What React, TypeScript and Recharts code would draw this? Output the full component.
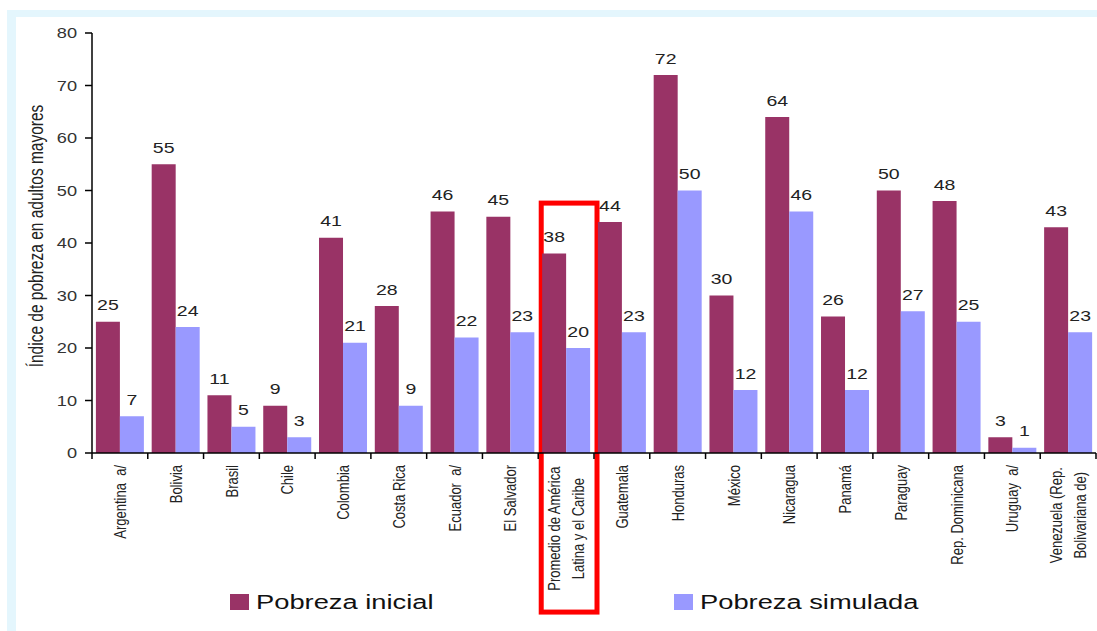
import React from 'react';
import { BarChart, Bar, XAxis, YAxis, LabelList, ReferenceArea } from 'recharts';

const categories = [
  'Argentina  a/',
  'Bolivia',
  'Brasil',
  'Chile',
  'Colombia',
  'Costa Rica',
  'Ecuador  a/',
  'El Salvador',
  'Promedio de América\nLatina y el Caribe',
  'Guatemala',
  'Honduras',
  'México',
  'Nicaragua',
  'Panamá',
  'Paraguay',
  'Rep. Dominicana',
  'Uruguay  a/',
  'Venezuela (Rep.\nBolivariana de)',
];
const pobrezaInicial = [25, 55, 11, 9, 41, 28, 46, 45, 38, 44, 72, 30, 64, 26, 50, 48, 3, 43];
const pobrezaSimulada = [7, 24, 5, 3, 21, 9, 22, 23, 20, 23, 50, 12, 46, 12, 27, 25, 1, 23];
const yTicks = [0, 10, 20, 30, 40, 50, 60, 70, 80];
const highlightedCategory = categories[8];
const yTitle = 'Índice de pobreza en adultos mayores';
const seriesNames = ['Pobreza inicial', 'Pobreza simulada'];

const COLORS = ['#993366', '#9999FF'];
const FONT = '"Liberation Sans", Arial, sans-serif';
const STRETCH = 1.3;
const W = 1097;
const H = 631;

const data = categories.map((c, i) => ({
  name: c,
  inicial: pobrezaInicial[i],
  simulada: pobrezaSimulada[i],
}));

const XTick = (props: any) => {
  const { x, y, payload, index } = props;
  const half = payload && payload.offset ? payload.offset : 27.9;
  const lines = String(payload.value).split('\n');
  const top = y + 12;
  const maxLen = Math.max(...lines.map((l) => l.length));
  const centerOff = (maxLen * 6.7) / 2;
  return (
    <g>
      <line x1={x - half} y1={y} x2={x - half} y2={y + 6} stroke="#000" strokeWidth={1.5} />
      {index === categories.length - 1 && (
        <line x1={x + half} y1={y} x2={x + half} y2={y + 6} stroke="#000" strokeWidth={1.5} />
      )}
      {lines.map((l, i) => {
        const cx = x + (i - (lines.length - 1) / 2) * 24;
        const multi = lines.length > 1;
        return (
          <text
            key={i}
            transform={`translate(${cx},${top}) scale(${STRETCH},1) rotate(-90)`}
            x={multi ? -centerOff : 0}
            y={0}
            textAnchor={multi ? 'middle' : 'end'}
            dominantBaseline="central"
            fontSize={13}
            fontFamily={FONT}
            fill="#222"
            style={{ whiteSpace: 'pre' }}
          >
            {l}
          </text>
        );
      })}
    </g>
  );
};

const YTick = (props: any) => {
  const { x, y, payload } = props;
  return (
    <text
      transform={`translate(${x},${y}) scale(${STRETCH},1)`}
      textAnchor="end"
      dominantBaseline="central"
      fontSize={14}
      fontFamily={FONT}
      fill="#333"
    >
      {payload.value}
    </text>
  );
};

const BarLabel = (props: any) => {
  const { x, y, width, value } = props;
  return (
    <text
      transform={`translate(${x + width / 2},${y - 11.5}) scale(${STRETCH},1)`}
      textAnchor="middle"
      fontSize={15}
      fontFamily={FONT}
      fill="#222"
    >
      {value}
    </text>
  );
};

const BoxShape = (p: any) => (
  <rect x={p.x + 3} y={p.y} width={p.width} height={p.height} fill="none" stroke="#FF0000" strokeWidth={5} />
);

export default function App() {
  const legendX = [230, 674];
  return (
    <div style={{ position: 'absolute', left: 0, top: 0, width: W, height: H, background: '#fff' }}>
      <BarChart
        width={W}
        height={H}
        data={data}
        margin={{ top: 33, right: 1, bottom: 28, left: 0 }}
        barCategoryGap="7%"
        barGap={0}
      >
        <XAxis
          dataKey="name"
          interval={0}
          height={150}
          tickSize={0}
          tickMargin={0}
          tickLine={false}
          axisLine={{ stroke: '#000', strokeWidth: 1.5 }}
          tick={<XTick />}
        />
        <YAxis
          domain={[0, 80]}
          ticks={yTicks}
          width={92}
          tickSize={7}
          tickMargin={8}
          axisLine={{ stroke: '#000', strokeWidth: 1.5 }}
          tickLine={{ stroke: '#000', strokeWidth: 1.5 }}
          tick={<YTick />}
          interval={0}
        />
        <Bar dataKey="inicial" name={seriesNames[0]} fill={COLORS[0]} isAnimationActive={false}>
          <LabelList dataKey="inicial" content={<BarLabel />} />
        </Bar>
        <Bar dataKey="simulada" name={seriesNames[1]} fill={COLORS[1]} isAnimationActive={false}>
          <LabelList dataKey="simulada" content={<BarLabel />} />
        </Bar>
        <ReferenceArea
          x1={highlightedCategory}
          x2={highlightedCategory}
          y1={-30.3}
          y2={47.6}
          ifOverflow="visible"
          shape={<BoxShape />}
        />
      </BarChart>
      <svg
        width={W}
        height={H}
        style={{ position: 'absolute', left: 0, top: 0, pointerEvents: 'none' }}
      >
        <rect x={7} y={10} width={W - 7} height={7} fill="#E4F6FD" />
        <rect x={7} y={10} width={9} height={H - 10} fill="#E4F6FD" />
        <text
          transform={`translate(36,236) scale(${STRETCH},1) rotate(-90)`}
          textAnchor="middle"
          dominantBaseline="central"
          fontSize={15.5}
          fontFamily={FONT}
          fill="#222"
        >
          {yTitle}
        </text>
        {seriesNames.map((n, i) => (
          <g key={n}>
            <rect x={legendX[i]} y={594} width={19} height={16} fill={COLORS[i]} />
            <text
              transform={`translate(${legendX[i] + 26},609) scale(${STRETCH},1)`}
              fontSize={21}
              fontFamily={FONT}
              fill="#111"
            >
              {n}
            </text>
          </g>
        ))}
      </svg>
    </div>
  );
}
